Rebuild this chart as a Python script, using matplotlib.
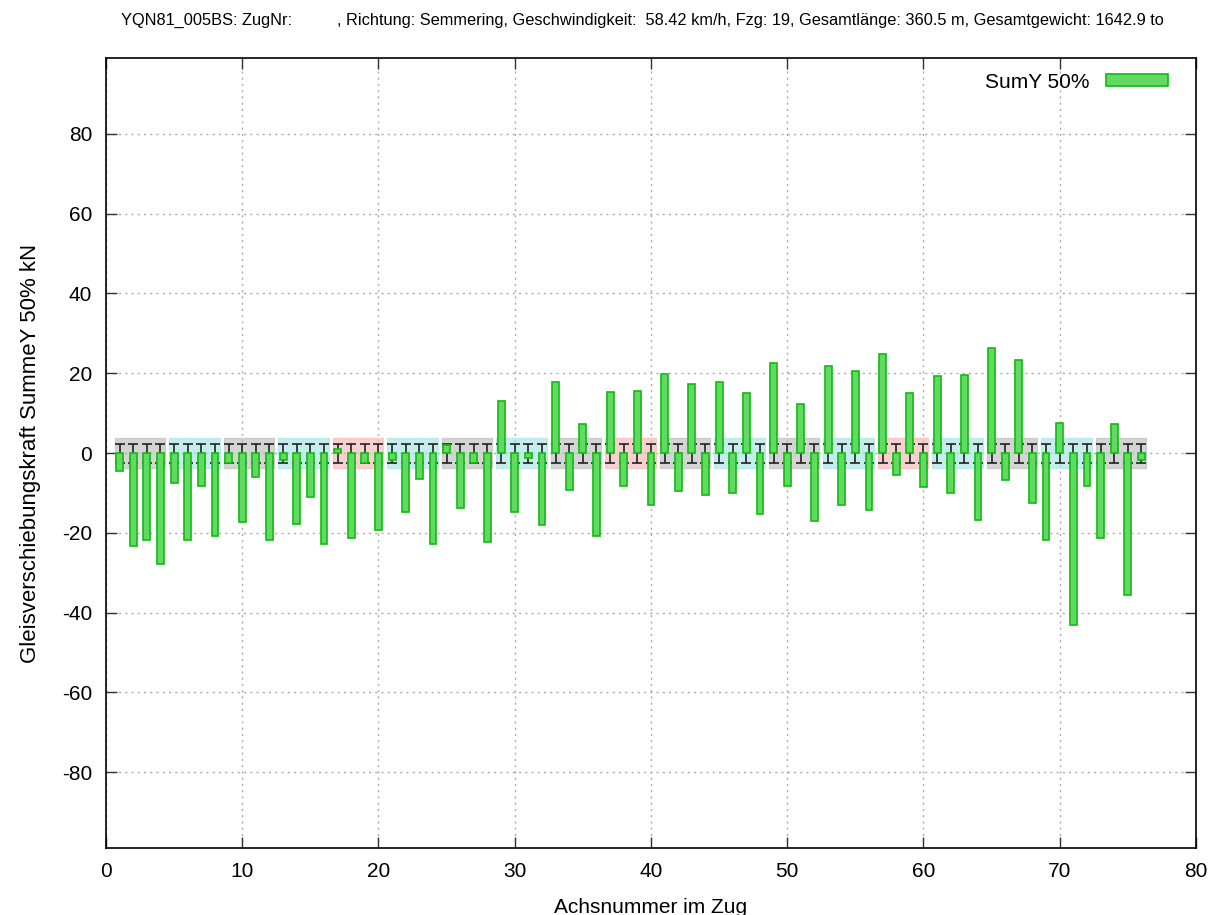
import numpy as np
import matplotlib
matplotlib.use("Agg")
import matplotlib.pyplot as plt
from matplotlib.patches import Rectangle

plt.rcParams['font.family'] = ['Liberation Sans', 'DejaVu Sans']
plt.rcParams['axes.unicode_minus'] = False

# lateral force sum per axle (kN), axles 1..76
axle = np.arange(1, 77)
sum_y = [
    -4.4, -23.4, -21.9, -27.9,
    -7.4, -21.9, -8.3, -20.7,
    -2.6, -17.4, -6.0, -21.9,
    -1.8, -17.7, -10.9, -22.9,
    1.1, -21.2, -2.4, -19.3,
    -1.8, -14.9, -6.6, -22.7,
    1.9, -13.7, -2.4, -22.2,
    13.0, -14.9, -1.2, -18.0,
    17.9, -9.2, 7.3, -20.9,
    15.3, -8.3, 15.6, -13.1,
    19.8, -9.4, 17.2, -10.4,
    17.9, -9.9, 15.1, -15.2,
    22.6, -8.2, 12.4, -17.0,
    21.8, -13.1, 20.5, -14.4,
    24.7, -5.5, 15.1, -8.4,
    19.4, -9.9, 19.5, -16.7,
    26.3, -6.8, 23.3, -12.5,
    -21.9, 7.5, -43.0, -8.2,
    -21.4, 7.3, -35.7, -1.8,
]

# vehicle type per wagon (19 wagons, 4 axles each)
wagon_type = ['g', 'c', 'g', 'c', 'r', 'c', 'g', 'c', 'g', 'r',
              'g', 'c', 'g', 'c', 'r', 'c', 'g', 'c', 'g']
type_colors = {'g': '#bdbdbd', 'c': '#a8e4e4', 'r': '#f7b8b8'}

err_lo, err_hi = 2.4, 2.2
band = 3.7

title = ("YQN81_005BS: ZugNr:          , Richtung: Semmering, Geschwindigkeit:  58.42 km/h, "
         "Fzg: 19, Gesamtlänge: 360.5 m, Gesamtgewicht: 1642.9 to")

fig = plt.figure(figsize=(12.1, 9.15), dpi=100)
ax = fig.add_axes([0.0876, 0.0732, 0.9008, 0.8634])

# wagon bands
for i, t in enumerate(wagon_type):
    ax.add_patch(Rectangle((4 * i + 0.65, -band), 3.7, 2 * band,
                           facecolor=type_colors[t], edgecolor=type_colors[t],
                           alpha=0.65, lw=1.0, zorder=1))

ax.errorbar(axle, np.zeros(len(axle)), yerr=[[err_lo] * len(axle), [err_hi] * len(axle)],
            fmt='none', ecolor='#222222', elinewidth=1.2, capsize=3.5, capthick=1.2, zorder=2)

ax.bar(axle, sum_y, width=0.5, color='#62d962', edgecolor='#11bb11', linewidth=1.2,
       zorder=3, label='SumY 50%')

ax.set_xlim(0, 80)
ax.set_ylim(-99, 99)
ax.set_xticks(np.arange(0, 81, 10))
ax.set_yticks(np.arange(-80, 81, 20))
ax.grid(True, linestyle=(0, (1.5, 3)), color='#aaaaaa', linewidth=1.0, zorder=0)
ax.set_axisbelow(True)
ax.tick_params(direction='in', length=8, width=1.0, labelsize=15,
               top=True, right=True, color='#333333', pad=10)
for s in ax.spines.values():
    s.set_linewidth(1.2)

ax.set_xlabel('Achsnummer im Zug', fontsize=15, labelpad=12)
ax.set_ylabel('Gleisverschiebungskraft SummeY 50% kN', fontsize=16, labelpad=15)
fig.text(0.531, 0.978, title, ha='center', va='center', fontsize=11.8)

leg = ax.legend(loc='upper right', bbox_to_anchor=(0.988, 1.0), frameon=False,
                fontsize=15, handlelength=3.0, handleheight=0.5, markerfirst=False,
                borderaxespad=0.3)

fig.savefig('out.png', dpi=100)
